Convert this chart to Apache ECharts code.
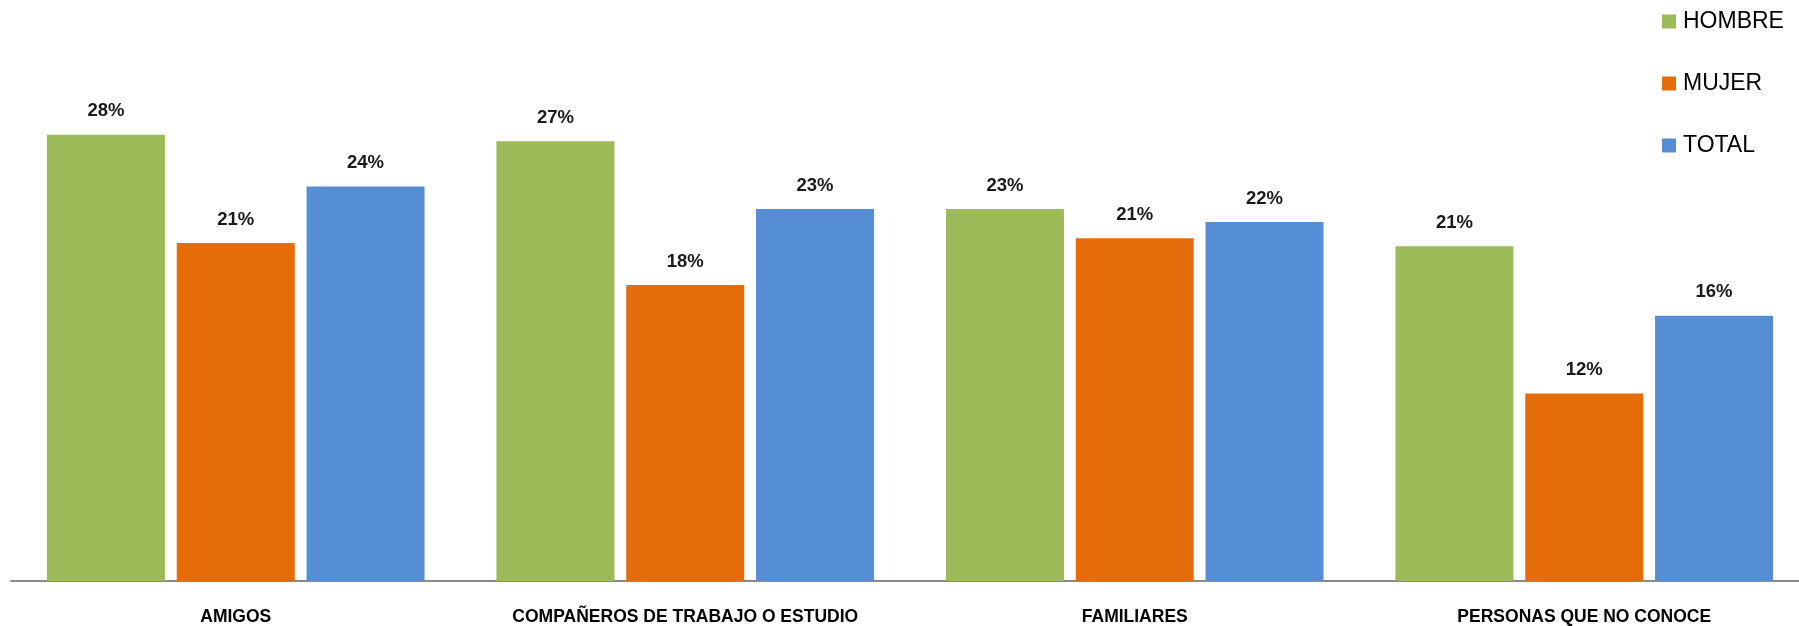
<!DOCTYPE html>
<html>
<head>
<meta charset="utf-8">
<script src="https://cdn.jsdelivr.net/npm/echarts@6/dist/echarts.min.js"></script>
<style>html,body{margin:0;padding:0;background:#fff}#c{width:1799px;height:626px}</style>
</head>
<body>
<div id="c"></div>
<script>
const categories = ['AMIGOS', 'COMPAÑEROS DE TRABAJO O ESTUDIO', 'FAMILIARES', 'PERSONAS QUE NO CONOCE'];
const hombre = [27.6, 27.2, 23.0, 20.7];
const mujer = [20.9, 18.3, 21.2, 11.6];
const total = [24.4, 23.0, 22.2, 16.4];
const seriesNames = ['HOMBRE', 'MUJER', 'TOTAL'];
const colors = ['#9BBB59', '#E46C0A', '#558ED5'];

const chart = echarts.init(document.getElementById('c'));
const label = {
  show: true, position: 'top', distance: 14,
  fontFamily: 'Liberation Sans', fontWeight: 'bold', fontSize: 18.5, color: '#1a1a1a',
  formatter: p => Math.round(p.value) + '%'
};
const mk = (name, data, color) => ({
  name, type: 'bar', data, barWidth: 118, barGap: '10%',
  itemStyle: { color }, label
});
chart.setOption({
  animation: false,
  legend: {
    orient: 'vertical', left: 1657, top: 5, itemWidth: 14, itemHeight: 14, itemGap: 39,
    icon: 'rect',
    textStyle: { fontFamily: 'Liberation Sans', fontSize: 23, color: '#000', padding: [0, 0, 0, 2] },
    data: seriesNames
  },
  grid: { left: 11, width: 1798, top: 15, bottom: 45, outerBoundsMode: 'none', containLabel: false },
  xAxis: {
    type: 'category', data: categories,
    axisLine: { lineStyle: { color: '#898989', width: 2 } },
    axisTick: { show: false },
    axisLabel: { margin: 27, fontFamily: 'Liberation Sans', fontWeight: 'bold', fontSize: 17.5, color: '#000', interval: 0 }
  },
  yAxis: { type: 'value', min: 0, max: 35, show: false, splitLine: { show: false } },
  series: [
    mk(seriesNames[0], hombre, colors[0]),
    mk(seriesNames[1], mujer, colors[1]),
    mk(seriesNames[2], total, colors[2])
  ]
});
</script>
</body>
</html>
